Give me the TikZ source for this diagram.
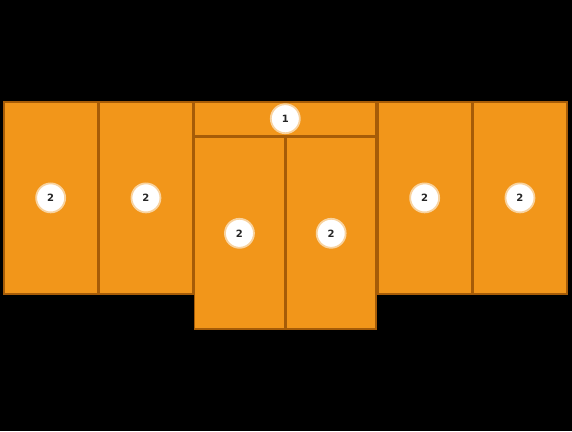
\documentclass[tikz,border=0pt]{standalone}
\usepackage{fontspec}
\setsansfont{DejaVu Sans}
\usepackage{tikz}
\usetikzlibrary{positioning}
\definecolor{panelOrange}{HTML}{F2961A}
\definecolor{panelEdge}{HTML}{A65C08}
\definecolor{badgeRing}{HTML}{F8D3A0}

\begin{document}
\begin{tikzpicture}[x=1pt, y=-1pt,
  panel/.style={draw=panelEdge, line width=1.8pt, fill=panelOrange, inner sep=0pt},
  wing/.style={panel, minimum width=93.5pt, minimum height=192pt},
  badge/.style={circle, draw=badgeRing, line width=1.8pt, fill=white,
                minimum size=29pt, inner sep=0pt, text=black!85,
                font=\sffamily\bfseries\fontsize{10}{10}\selectfont}]

\fill[black] (0,0) rectangle (572,431);

% outer wings
\node[wing, anchor=north west] (wingA) at (3,101) {};
\node[wing, right=0pt of wingA] (wingB) {};

% centre block
\node[panel, minimum width=181.6pt, minimum height=33.6pt,
      anchor=north west] (topBar) at (wingB.north east) {};
\node[panel, minimum width=89.9pt, minimum height=192pt,
      anchor=north west] (midA) at (topBar.south west) {};
\node[panel, minimum width=89.9pt, minimum height=192pt,
      right=0pt of midA] (midB) {};

% right wings
\node[wing, anchor=north west] (wingC) at (topBar.north east) {};
\node[wing, right=0pt of wingC] (wingD) {};

% badges
\node[badge] (bTop) at (topBar) {1};
\foreach \p in {wingA, wingB, midA, midB, wingC, wingD}
  \node[badge] (b\p) at (\p) {2};
\end{tikzpicture}
\end{document}
